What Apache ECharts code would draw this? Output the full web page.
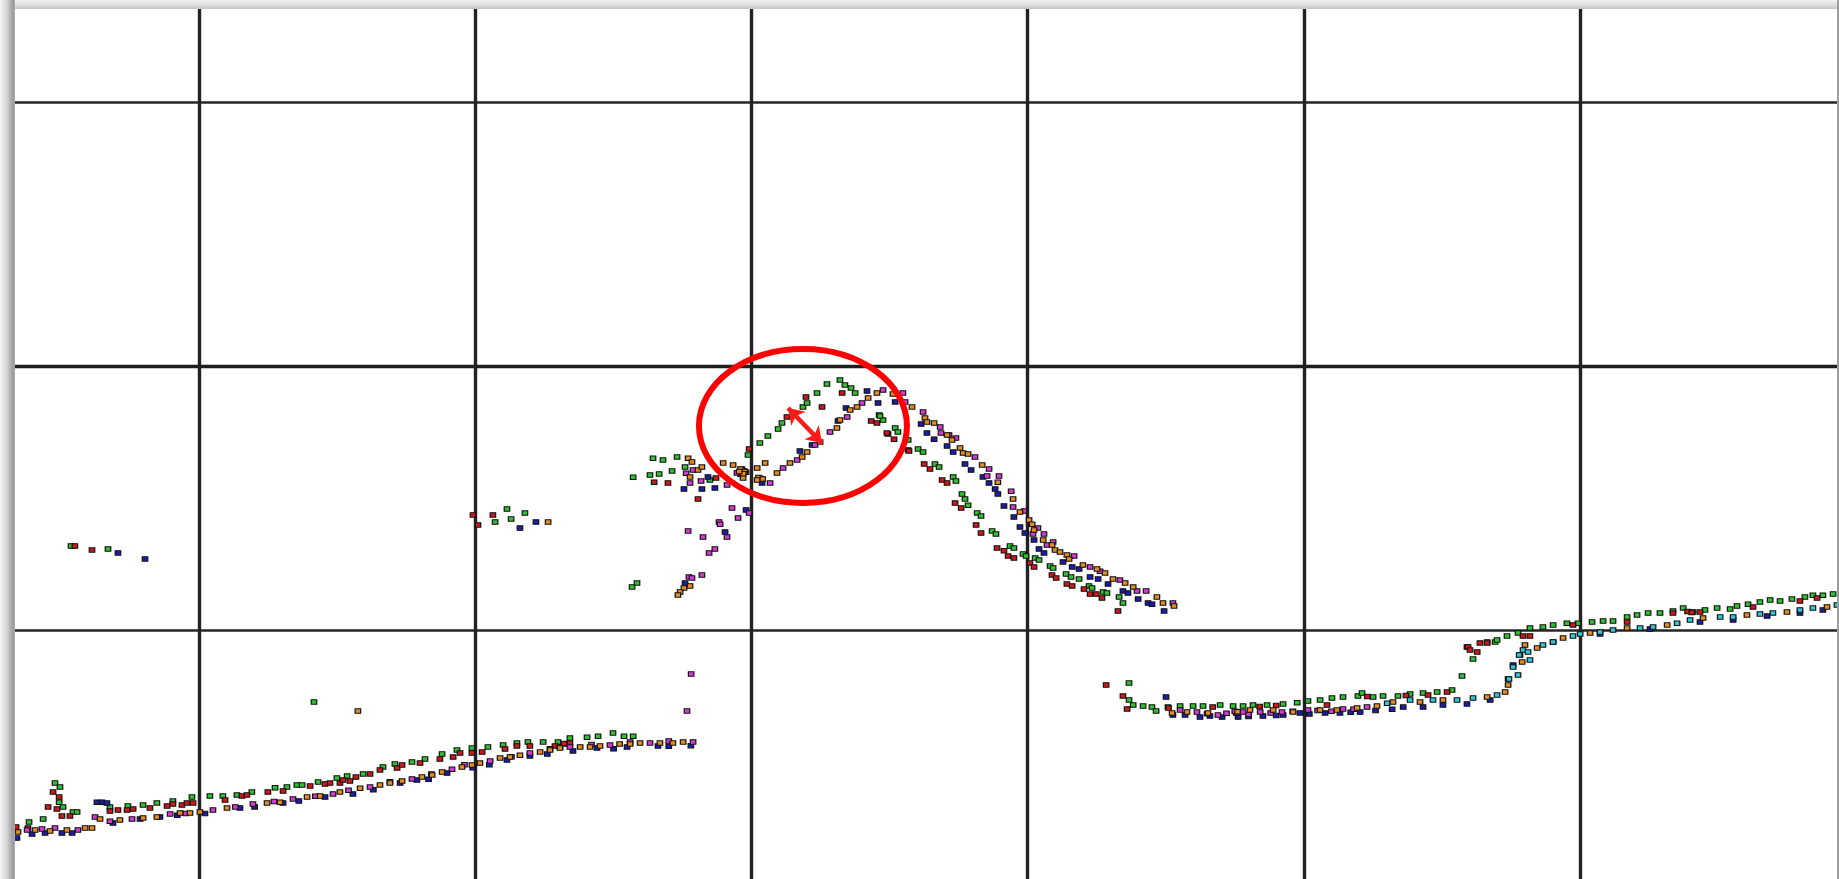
<!DOCTYPE html>
<html>
<head>
<meta charset="utf-8">
<script src="https://cdn.jsdelivr.net/npm/echarts@6/dist/echarts.min.js"></script>
<style>
  html, body { margin: 0; padding: 0; width: 1839px; height: 879px; overflow: hidden; background: #ffffff; }
  .edge { position: absolute; }
  #edgeTop { left: 0; top: 0; width: 1839px; height: 9px; background: linear-gradient(to bottom, #f3f3f3 0%, #dcdcdc 60%, #c4c4c4 100%); }
  #edgeLeft { left: 0; top: 0; width: 15px; height: 879px; background: linear-gradient(to right, #f4f4f4 0%, #d6d6d6 45%, #a9a9a9 75%, #9c9c9c 90%, #b4b4b4 100%); }
  #edgeRight { left: 1837px; top: 0; width: 2px; height: 879px; background: #9e9e9e; }
  #chart { position: absolute; left: 15px; top: 9px; width: 1822px; height: 870px; background: #ffffff; }
</style>
</head>
<body>
<div class="edge" id="edgeTop"></div>
<div class="edge" id="edgeLeft"></div>
<div class="edge" id="edgeRight"></div>
<div id="chart"></div>
<script>
// Axis layout: split lines every 10 units on both axes
const xRange = [0, 70];
const yRange = [0, 40];
const tickStep = 10;

// Measurement series, [x, y]
const greenPts = [
  [4.77,4.20],[4.95,4.05],[4.92,3.48],[5.06,3.30],[5.42,3.11],[5.57,3.11],[4.34,2.84],[3.83,2.73],
  [6.76,3.30],[7.41,3.33],[7.96,3.37],[8.46,3.45],[9.04,3.52],[9.73,3.67],[10.38,3.71],[10.85,3.71],
  [11.36,3.75],[11.90,3.86],[12.74,4.02],[13.17,4.05],[13.53,4.13],[13.72,4.13],[14.30,4.24],[14.98,4.39],
  [15.35,4.47],[15.93,4.55],[16.65,4.81],[17.08,4.92],[17.70,5.00],[18.17,5.11],[18.79,5.30],[19.33,5.45],
  [19.87,5.53],[20.45,5.57],[21.00,5.64],[21.50,5.72],[21.90,5.76],[22.45,5.76],[22.99,5.76],[23.42,5.91],
  [24.04,5.94],[24.44,5.98],[24.98,6.10],[25.38,5.98],[25.71,5.98],
  [5.35,13.18],[6.69,13.07],[21.14,14.58],[20.71,14.09],[21.29,14.20],[21.79,14.43],[14.15,7.27],
  [25.71,15.79],[26.43,16.51],[26.79,16.44],[27.30,16.55],[26.32,15.87],[26.65,15.91],[27.12,16.02],[27.59,16.17],
  [28.49,15.68],[25.67,11.63],[25.85,11.78],[29.87,16.63],[30.30,17.08],[30.59,17.35],[30.96,17.61],[31.10,17.84],
  [31.86,18.45],[32.01,18.60],[32.37,18.98],[32.73,19.32],[33.20,19.47],[33.38,19.28],[33.60,19.17],[33.75,18.98],
  [34.62,18.14],[34.76,17.95],[34.65,18.11],[35.20,17.65],[35.30,17.50],[35.67,17.20],[36.03,16.86],[36.21,16.74],
  [36.64,16.29],[36.79,16.17],[37.30,15.80],[37.40,15.64],[37.62,15.15],[37.73,14.96],[37.84,14.73],[38.17,14.43],
  [38.31,14.32],[38.71,13.75],[38.85,13.64],[39.36,13.18],[39.50,13.11],[39.83,12.88],[39.94,12.80],[40.27,12.73],
  [40.41,12.65],[40.81,12.42],[40.92,12.35],[41.39,12.12],[41.57,12.01],[41.86,11.93],[42.22,11.67],[42.33,11.59],
  [42.73,11.44],[42.87,11.40],[43.31,11.25],[43.45,11.02],
  [43.67,7.99],[43.67,7.35],[43.82,7.16],[44.18,7.12],[44.50,7.08],[44.65,6.93],[45.08,7.08],[45.52,7.12],
  [45.99,7.12],[46.35,7.12],[46.97,7.16],[47.44,7.12],[47.80,7.12],[48.16,7.16],[48.67,7.16],[49.25,7.20],
  [49.76,7.24],[50.15,7.31],[50.59,7.35],[51.02,7.42],[51.42,7.46],[51.96,7.50],[52.11,7.61],[52.51,7.46],
  [52.87,7.50],[53.41,7.50],[53.85,7.58],[54.32,7.61],[54.83,7.65],[55.37,7.73],[55.73,8.26],[56.13,8.90],
  [55.91,9.36],[56.64,9.55],[56.93,9.55],[57.00,9.62],[57.36,9.77],[57.76,9.89],[58.19,10.08],[58.66,10.11],
  [59.03,10.19],[59.53,10.26],[59.93,10.26],[60.44,10.30],[60.84,10.34],[61.20,10.34],[61.71,10.49],[62.07,10.57],
  [62.47,10.64],[62.90,10.64],[63.37,10.72],[63.74,10.83],[64.10,10.68],[64.53,10.76],[64.97,10.83],[65.44,10.80],
  [65.69,10.91],[66.09,10.98],[66.52,11.06],[66.89,11.14],[67.25,11.10],[67.68,11.17],[68.15,11.25],[68.44,11.32],
  [68.80,11.32],[69.17,11.36]
];

const redPts = [
  [4.70,3.86],[4.92,3.67],[4.52,3.30],[4.84,3.22],[5.02,2.95],[5.31,2.95],[3.79,2.50],[3.36,2.54],
  [6.76,3.14],[7.05,3.18],[7.38,3.18],[7.60,3.22],[8.21,3.26],[8.83,3.33],[9.04,3.41],[9.37,3.37],
  [9.55,3.45],[9.77,3.45],[10.93,3.56],[11.54,3.71],[11.72,3.75],[12.48,3.86],[13.03,3.90],[14.01,4.09],
  [14.55,4.17],[14.73,4.20],[15.09,4.20],[15.45,4.28],[15.20,4.32],[15.67,4.43],[16.18,4.55],[16.54,4.70],
  [17.16,4.77],[17.34,4.89],[17.99,4.96],[18.71,5.11],[19.19,5.19],[19.44,5.34],[19.87,5.34],[20.24,5.38],
  [21.07,5.49],[21.50,5.61],[21.97,5.61],[22.88,5.61],[23.06,5.57],[23.31,5.68],[23.42,5.72],[23.20,5.70],
  [5.49,13.18],[6.11,13.03],[19.91,14.36],[20.09,13.98],[20.63,14.36],
  [26.47,15.60],[26.97,15.57],[28.71,15.76],[28.06,14.96],[29.91,16.86],[31.28,18.07],[31.97,18.83],[32.55,18.45],
  [33.28,18.98],[34.33,17.92],[34.54,17.84],[34.94,17.42],[35.16,17.23],[35.67,16.82],[34.90,17.46],[35.70,16.78],
  [36.25,16.29],[36.46,16.10],[36.90,15.68],[37.08,15.57],[37.37,14.81],[37.59,14.62],[38.13,13.98],[38.31,13.67],
  [38.89,13.11],[39.14,13.00],[39.29,12.80],[39.50,12.73],[40.08,12.54],[40.23,12.39],[40.88,12.08],[41.03,11.97],
  [41.42,11.74],[41.61,11.67],[42.04,11.55],[42.26,11.36],[42.48,11.36],[42.69,11.21],[43.27,10.72],
  [42.84,7.92],[43.45,7.50],[43.60,7.01],[45.10,7.05],[46.70,7.08],[48.40,7.10],[49.00,7.14],[50.84,7.16],
  [52.30,7.48],[53.70,7.52],[54.50,7.54],[55.19,7.65],[55.95,9.36],[56.28,9.17],
  [56.64,9.51],[57.94,9.77],[56.02,9.24],[56.38,9.51],[58.19,9.77],[59.75,10.19],[61.71,10.30],[63.37,10.64],
  [64.35,10.68],[66.27,10.87],[67.97,11.10],[68.59,11.21],[63.90,10.70],[64.05,10.66]
];

const bluePts = [
  [3.39,2.12],[3.94,2.27],[4.41,2.31],[5.02,2.31],[5.39,2.31],[6.29,3.48],[6.47,3.48],[6.65,3.45],
  [6.87,2.69],[7.85,2.84],[8.57,2.92],[9.20,2.98],[10.20,3.05],[11.47,3.26],[12.00,3.30],[13.03,3.45],
  [13.60,3.52],[14.55,3.67],[15.56,3.79],[16.30,3.95],[17.27,4.20],[17.88,4.32],[18.30,4.35],[18.97,4.58],
  [19.90,4.78],[20.50,4.90],[21.14,5.08],[21.97,5.23],[22.60,5.30],[23.53,5.42],[24.40,5.53],[25.00,5.50],
  [25.49,5.57],[26.61,5.61],[27.00,5.60],[27.80,5.62],
  [7.05,12.92],[8.03,12.69],[21.61,13.86],[22.19,14.09],
  [27.55,15.34],[28.20,15.34],[28.67,15.38],[28.42,15.80],[30.38,15.57],[29.80,14.55],[29.04,13.71],[27.59,11.78],
  [29.72,16.02],[30.35,15.70],[29.60,15.90],
  [31.75,16.78],[32.19,17.01],[33.13,17.92],[33.42,18.41],[34.18,19.05],[34.58,18.60],[35.20,18.64],[36.14,17.80],
  [36.35,17.46],[36.61,17.23],[37.08,16.97],[37.30,16.74],[37.73,16.29],[37.95,16.06],[38.38,15.80],[38.60,15.57],
  [38.82,15.34],[38.92,15.15],[39.14,14.70],[39.50,14.28],[39.72,13.90],[39.90,13.67],[40.23,13.41],[40.41,13.07],
  [40.59,12.92],[41.28,12.58],[41.61,12.39],[41.86,12.31],[42.26,12.01],[42.55,11.93],[42.91,11.74],[43.45,11.48],
  [43.63,11.40],[44.00,11.17],[44.36,11.02],[44.50,10.98],[44.94,10.72],
  [45.01,7.46],[45.26,6.78],[45.70,6.78],[46.24,6.70],[46.60,6.74],[47.04,6.70],[47.62,6.70],[48.00,6.72],
  [48.52,6.74],[49.00,6.76],[49.25,6.78],[49.86,6.86],[50.20,6.82],[50.77,6.86],[51.31,6.86],[51.70,6.88],
  [52.04,6.89],[52.60,6.95],[53.20,7.00],[53.60,7.08],[54.32,7.08],[55.04,7.16],[55.91,7.20],
  [56.75,7.35],[57.40,8.14],[57.58,8.67],[57.83,9.05],[59.03,9.55],[60.73,9.85],[62.54,10.04],[64.35,10.30],
  [65.55,10.38],[66.78,10.53],[67.97,10.64],[68.80,10.76],[47.55,6.86]
];

const magentaPts = [
  [3.76,2.42],[4.30,2.46],[4.77,2.50],[5.60,2.42],[6.22,2.92],[6.76,2.76],[7.56,2.84],[8.94,3.03],
  [9.50,3.05],[10.49,3.18],[11.30,3.30],[11.94,3.41],[12.70,3.50],[13.39,3.60],[14.20,3.70],[14.84,3.79],
  [15.40,3.93],[16.18,4.05],[16.90,4.25],[17.70,4.36],[18.40,4.55],[19.15,4.73],[19.60,4.90],[20.53,5.04],
  [21.30,5.20],[21.97,5.34],[22.70,5.50],[23.42,5.57],[24.20,5.66],[24.87,5.64],[25.60,5.76],[26.32,5.72],
  [27.00,5.80],[27.88,5.76],
  [27.66,6.93],[27.81,8.33],
  [27.88,16.06],[27.63,15.94],[27.77,15.57],[28.17,15.64],[29.11,15.49],[29.47,15.95],[30.67,15.57],[31.14,16.14],
  [31.65,16.44],[32.30,17.01],[32.84,17.50],[33.46,18.07],[34.00,18.60],[34.76,19.09],[35.48,18.98],[35.56,18.64],
  [36.21,18.26],[36.83,17.69],[36.86,17.46],[37.15,17.39],[37.40,17.27],[38.09,16.55],[38.60,16.10],[38.53,15.83],
  [38.96,15.83],[39.40,15.26],[39.47,14.66],[39.87,14.51],[40.37,13.86],[40.19,13.64],[40.59,13.64],[40.70,13.22],
  [40.92,13.33],[41.68,12.80],[42.26,12.39],[42.62,12.23],[43.34,11.89],[43.96,11.48],[44.29,11.48],[45.26,11.02],
  [29.65,16.10],[30.30,15.75],[29.80,15.98],
  [29.29,14.62],[29.91,14.43],[28.82,14.09],[28.86,14.01],[29.51,14.24],[29.11,13.52],[27.70,13.75],[28.24,13.52],
  [28.46,12.92],[28.67,13.07],[28.20,12.08],[27.73,12.01],[27.84,11.97],
  [45.52,6.97],[46.13,6.89],[46.50,6.83],[46.89,6.78],[47.20,6.85],[47.80,6.89],[48.00,6.80],[48.42,6.89],
  [48.80,6.86],[49.21,6.89],[49.60,6.92],[50.15,6.97],[50.50,6.95],[51.00,6.92],[51.42,7.01],[51.80,7.00],
  [52.29,7.08],[47.50,6.92]
];

const orangePts = [
  [3.43,2.35],[4.05,2.42],[4.59,2.39],[5.20,2.42],[5.86,2.50],[6.11,2.50],[6.40,2.84],[7.12,2.80],
  [7.96,2.88],[8.46,2.92],[9.30,3.07],[9.66,3.07],[10.02,3.11],[11.00,3.26],[12.45,3.45],[12.92,3.48],
  [13.90,3.67],[14.37,3.71],[15.09,3.86],[15.82,4.01],[16.54,4.13],[16.90,4.20],[17.34,4.28],[18.06,4.43],
  [18.43,4.51],[18.79,4.62],[19.51,4.81],[19.87,4.89],[20.16,4.96],[20.89,5.15],[21.25,5.19],[21.61,5.26],
  [22.34,5.38],[22.70,5.45],[23.06,5.53],[23.79,5.57],[24.15,5.57],[24.51,5.61],[25.22,5.68],[25.60,5.68],
  [25.96,5.72],[26.68,5.72],[27.15,5.72],[27.52,5.76],
  [15.74,6.93],[22.63,14.09],
  [27.70,16.51],[27.84,16.36],[28.06,16.06],[28.20,16.17],[27.77,15.80],[28.97,16.33],[29.33,16.25],[29.69,15.76],
  [30.49,16.33],[30.20,16.14],[30.92,15.95],[31.39,16.33],[31.83,16.55],[32.01,16.74],[32.48,17.12],[33.09,17.65],
  [33.20,17.95],[33.57,18.33],[33.82,18.45],[34.22,18.79],[34.54,18.98],[35.12,18.94],[35.81,18.45],[36.28,18.03],
  [36.35,17.88],[36.61,17.84],[37.08,17.39],[37.26,17.20],[37.55,16.89],[37.66,16.70],[37.84,16.67],[38.35,16.25],
  [38.92,15.60],[39.47,14.96],[39.72,14.47],[40.05,14.17],[40.16,14.01],[40.23,13.79],[40.56,13.41],[40.88,13.22],
  [40.99,13.03],[41.17,12.95],[41.42,12.84],[41.50,12.69],[42.00,12.46],[42.51,12.31],[42.80,12.16],[43.09,11.93],
  [43.53,11.78],[43.82,11.63],[44.68,11.25],[44.90,11.02],[45.30,10.91],
  [29.60,16.10],[29.75,16.00],[29.70,15.92],[30.25,15.78],[30.40,15.72],[29.55,16.00],[30.20,15.68],
  [27.55,11.59],[27.41,11.44],[27.33,11.33],[27.77,11.67],
  [45.23,6.86],[45.77,6.89],[46.53,6.86],[48.05,6.97],[48.89,6.97],[49.61,6.89],[50.59,6.97],[51.20,6.97],
  [51.93,7.05],[52.65,7.12],[53.23,7.27],[54.21,7.27],[55.04,7.35],[56.64,7.46],[57.29,7.65],[57.40,7.92],
  [57.91,8.79],[58.01,9.43],[58.45,9.32],[59.39,9.70],[60.37,9.89],[61.71,10.08],[63.16,10.19],[64.46,10.45],
  [66.05,10.57],[67.50,10.68],[68.95,10.87],[47.60,6.90]
];

const cyanPts = [
  [53.02,7.23],[53.85,7.35],[54.68,7.35],[55.55,7.35],[56.13,7.42],[57.00,7.54],[57.43,8.14],[57.58,8.60],
  [57.76,8.30],[57.80,9.05],[57.94,9.24],[58.12,9.17],[58.19,8.86],[58.66,9.43],[59.03,9.55],[59.75,9.77],
  [60.01,9.85],[60.73,9.92],[61.20,10.00],[62.18,10.08],[62.65,10.11],[63.52,10.26],[63.99,10.38],[65.08,10.49],
  [65.55,10.49],[66.52,10.61],[66.99,10.64],[67.97,10.76],[68.44,10.83],[69.31,10.95]
];

// Annotation: ring around the rising edge and the gap between the two tracks
const ringCenter = [31.86, 17.73];
const gapArrow = [[31.32, 18.41], [32.55, 17.08]];

const seriesDefs = [
  { name: 'G', color: '#2cc42c', data: greenPts },
  { name: 'R', color: '#d01818', data: redPts },
  { name: 'B', color: '#1c1cb0', data: bluePts },
  { name: 'C', color: '#2ec8d8', data: cyanPts },
  { name: 'M', color: '#d83ad8', data: magentaPts },
  { name: 'O', color: '#e58c1c', data: orangePts }
];

const chart = echarts.init(document.getElementById('chart'), null, { renderer: 'canvas' });

const series = seriesDefs.map(function (d) {
  return {
    name: d.name,
    type: 'scatter',
    data: d.data,
    symbol: 'rect',
    symbolSize: [5.5, 4.5],
    itemStyle: { color: d.color, borderColor: '#101010', borderWidth: 1.1, opacity: 1 },
    emphasis: { disabled: true },
    animation: false,
    z: 3
  };
});

// Heavier middle rule and the red double-headed arrow
series.push({
  type: 'scatter',
  data: [],
  silent: true,
  animation: false,
  markLine: {
    silent: true,
    animation: false,
    symbol: ['none', 'none'],
    label: { show: false },
    lineStyle: { color: '#1e1e1e', width: 3.4, type: 'solid' },
    data: [{ yAxis: 20 }],
    z: 1
  }
});
series.push({
  type: 'scatter',
  data: [],
  silent: true,
  animation: false,
  z: 20,
  markLine: {
    silent: true,
    animation: false,
    symbol: ['arrow', 'arrow'],
    symbolSize: [15, 15],
    label: { show: false },
    lineStyle: { color: '#ff1a1a', width: 4.5, type: 'solid' },
    data: [[{ coord: gapArrow[0] }, { coord: gapArrow[1] }]],
    z: 20
  }
});

chart.setOption({
  animation: false,
  backgroundColor: '#ffffff',
  grid: {
    left: -91.7,
    top: -171,
    width: 1932.7,
    height: 1056,
    containLabel: false,
    outerBoundsMode: 'none'
  },
  xAxis: {
    type: 'value',
    min: xRange[0],
    max: xRange[1],
    interval: tickStep,
    axisLine: { show: false },
    axisTick: { show: false },
    axisLabel: { show: false },
    splitLine: { show: true, lineStyle: { color: '#222222', width: 3.4 } }
  },
  yAxis: {
    type: 'value',
    min: yRange[0],
    max: yRange[1],
    interval: tickStep,
    axisLine: { show: false },
    axisTick: { show: false },
    axisLabel: { show: false },
    splitLine: { show: true, lineStyle: { color: '#262626', width: 2.6 } }
  },
  tooltip: { show: false },
  series: series
});

const c = chart.convertToPixel({ gridIndex: 0 }, ringCenter);
chart.setOption({
  graphic: [{
    type: 'ellipse',
    silent: true,
    z: 100,
    shape: { cx: c[0], cy: c[1], rx: 104, ry: 77 },
    style: { fill: 'none', stroke: '#ff0000', lineWidth: 6 }
  }]
});
</script>
</body>
</html>
